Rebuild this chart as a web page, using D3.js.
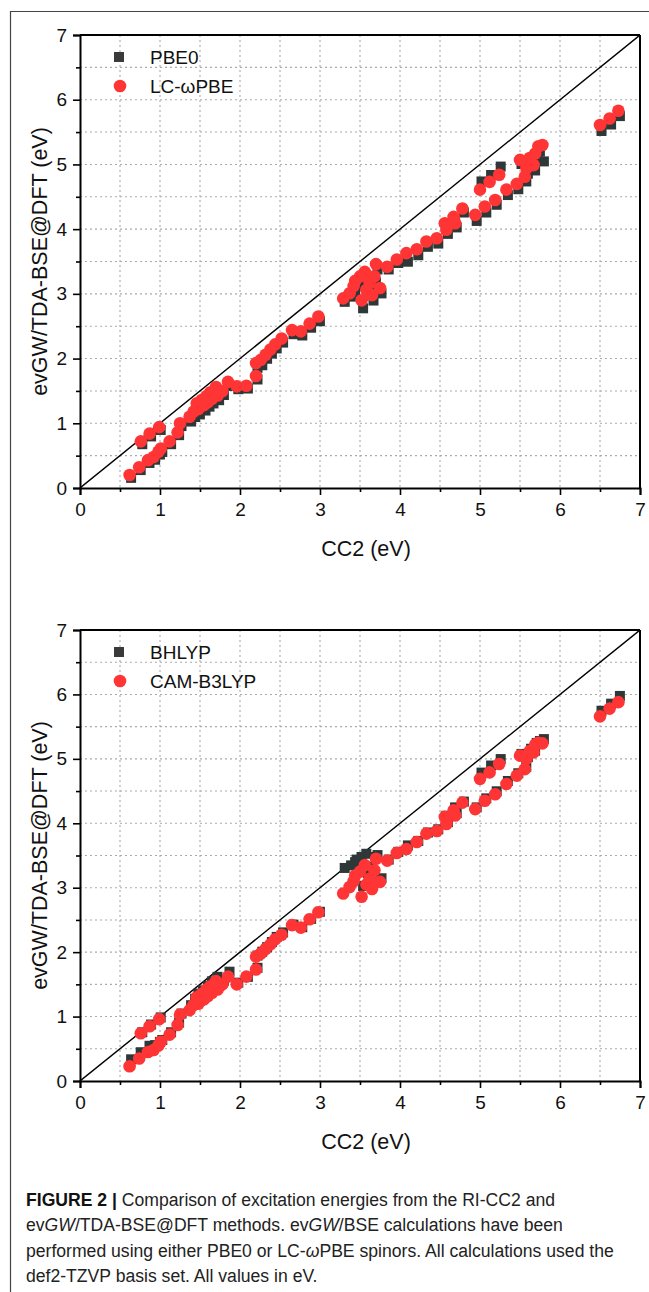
<!DOCTYPE html>
<html><head><meta charset="utf-8">
<script src="https://cdn.jsdelivr.net/npm/d3@7"></script>
<style>
body{margin:0;background:#fff;}
svg{display:block;}
</style></head><body>
<svg id="c" width="649" height="1292"></svg>
<script>
// CC2 reference energies (eV), shared by all series
const cc2 = [0.62,0.74,0.76,0.85,0.87,0.92,0.98,0.99,1.01,1.12,1.22,1.25,1.37,1.42,1.46,1.48,1.52,1.55,1.58,1.60,1.63,1.65,1.70,1.72,1.78,1.85,1.96,2.08,2.20,2.20,2.26,2.32,2.38,2.44,2.52,2.65,2.76,2.87,2.98,3.29,3.37,3.42,3.44,3.50,3.52,3.56,3.58,3.62,3.65,3.68,3.70,3.75,3.84,3.96,4.08,4.21,4.33,4.46,4.56,4.58,4.67,4.69,4.78,4.94,5.00,5.06,5.12,5.19,5.24,5.33,5.46,5.50,5.56,5.58,5.62,5.67,5.69,5.73,5.78,6.50,6.62,6.73];
const pbe0 = [0.18,0.30,0.70,0.41,0.82,0.46,0.54,0.92,0.58,0.70,0.84,0.98,1.05,1.12,1.27,1.16,1.33,1.22,1.39,1.28,1.45,1.33,1.53,1.38,1.46,1.60,1.55,1.56,1.70,1.88,1.92,2.02,2.10,2.18,2.27,2.40,2.38,2.50,2.60,2.90,2.98,3.05,3.15,3.22,2.80,3.30,3.00,3.12,2.92,3.20,3.40,3.03,3.40,3.50,3.52,3.62,3.75,3.80,4.02,3.95,4.12,4.05,4.28,4.15,4.76,4.28,4.86,4.40,4.99,4.55,4.64,5.03,4.76,4.88,5.05,4.93,5.12,5.22,5.07,5.54,5.64,5.77];
const lcwpbe = [0.20,0.32,0.72,0.43,0.84,0.48,0.56,0.94,0.61,0.72,0.86,1.00,1.10,1.18,1.31,1.22,1.36,1.28,1.42,1.33,1.48,1.38,1.56,1.43,1.50,1.64,1.57,1.58,1.73,1.93,1.98,2.06,2.14,2.22,2.31,2.44,2.42,2.54,2.65,2.93,3.01,3.12,3.20,3.27,2.90,3.34,3.06,3.17,2.98,3.27,3.46,3.09,3.42,3.53,3.63,3.69,3.81,3.86,4.09,3.99,4.19,4.09,4.32,4.22,4.61,4.35,4.73,4.45,4.84,4.61,4.70,5.07,4.81,4.94,5.10,4.99,5.17,5.28,5.30,5.61,5.71,5.83];
const bhlyp = [0.36,0.47,0.78,0.57,0.90,0.58,0.63,1.01,0.66,0.78,0.93,1.07,1.20,1.30,1.38,1.27,1.43,1.35,1.50,1.40,1.57,1.45,1.64,1.50,1.58,1.72,1.55,1.64,1.78,1.97,2.03,2.10,2.18,2.26,2.33,2.45,2.41,2.54,2.65,3.33,3.37,3.42,3.46,3.50,3.05,3.55,3.25,3.35,3.12,3.50,3.53,3.17,3.46,3.58,3.68,3.75,3.88,3.93,4.14,4.04,4.27,4.18,4.36,4.27,4.81,4.41,4.92,4.52,5.02,4.68,4.80,5.10,4.90,5.05,5.18,5.15,5.27,5.30,5.33,5.77,5.88,6.00];
const camb3lyp = [0.23,0.35,0.74,0.45,0.85,0.48,0.55,0.96,0.61,0.72,0.87,1.03,1.10,1.18,1.30,1.20,1.35,1.27,1.42,1.32,1.47,1.37,1.55,1.42,1.50,1.62,1.50,1.62,1.73,1.93,1.98,2.05,2.12,2.20,2.27,2.42,2.38,2.51,2.62,2.91,3.01,3.10,3.19,3.25,2.86,3.35,3.05,3.14,2.98,3.27,3.45,3.09,3.42,3.54,3.60,3.71,3.84,3.88,4.10,3.99,4.20,4.12,4.32,4.22,4.69,4.35,4.79,4.45,4.92,4.61,4.74,5.05,4.84,5.00,5.12,5.10,5.22,5.25,5.24,5.66,5.78,5.88];
const majorTicks = [0,1,2,3,4,5,6,7];
const minorTicks = [0.5,1.5,2.5,3.5,4.5,5.5,6.5];
const gridVals = [0.5,1,1.5,2,2.5,3,3.5,4,4.5,5,5.5,6,6.5];
const xTitle = "CC2 (eV)";
const yTitle = "evGW/TDA-BSE@DFT (eV)";

const svg = d3.select("#c");
const FONT = "'Liberation Sans', Arial, Helvetica, sans-serif";

// outer figure frame
svg.append("path").attr("d","M10.5,1292 L10.5,11.5 L649,11.5")
  .attr("fill","none").attr("stroke","#444").attr("stroke-width",1.2);

function panel(top, bottom, sqData, ciData, sqName, ciName, id){
  const L=80, R=640;
  const x = d3.scaleLinear().domain([0,7]).range([L,R]);
  const y = d3.scaleLinear().domain([0,7]).range([bottom,top]);
  const g = svg.append("g");
  // grid
  g.append("g").selectAll("line").data(gridVals).join("line")
    .attr("x1",d=>x(d)).attr("x2",d=>x(d)).attr("y1",top).attr("y2",bottom)
    .attr("stroke","#aaa").attr("stroke-width",1.1).attr("stroke-dasharray","2,3");
  g.append("g").selectAll("line").data(gridVals).join("line")
    .attr("y1",d=>y(d)).attr("y2",d=>y(d)).attr("x1",L).attr("x2",R)
    .attr("stroke","#aaa").attr("stroke-width",1.1).attr("stroke-dasharray","2,3");
  // clip
  svg.append("clipPath").attr("id",id).append("rect")
    .attr("x",L).attr("y",top).attr("width",R-L).attr("height",bottom-top);
  // diagonal
  g.append("line").attr("x1",x(0)).attr("y1",y(0)).attr("x2",x(7)).attr("y2",y(7))
    .attr("stroke","#000").attr("stroke-width",1.4).attr("clip-path",`url(#${id})`);
  // points
  const pts = cc2.map((c,i)=>({c, s:sqData[i], r:ciData[i]}));
  const S = 10;
  g.append("g").selectAll("rect").data(pts).join("rect")
    .attr("x",d=>x(d.c)-S/2+1.5).attr("y",d=>y(d.s)-S/2+1.5)
    .attr("width",S).attr("height",S).attr("fill","#2f3838");
  g.append("g").selectAll("circle").data(pts).join("circle")
    .attr("cx",d=>x(d.c)).attr("cy",d=>y(d.r)).attr("r",6.3)
    .attr("fill","#ff3535");
  // axes
  const xa = d3.axisBottom(x).tickValues(majorTicks).tickSize(7).tickPadding(8).tickFormat(d3.format("d"));
  const xg = g.append("g").attr("transform",`translate(0,${bottom})`).call(xa);
  const xm = d3.axisBottom(x).tickValues(minorTicks).tickSize(4).tickFormat("");
  g.append("g").attr("transform",`translate(0,${bottom})`).call(xm).select(".domain").remove();
  const ya = d3.axisLeft(y).tickValues(majorTicks).tickSize(7).tickPadding(6).tickFormat(d3.format("d"));
  const yg = g.append("g").attr("transform",`translate(${L},0)`).call(ya);
  const ym = d3.axisLeft(y).tickValues(minorTicks).tickSize(4).tickFormat("");
  g.append("g").attr("transform",`translate(${L},0)`).call(ym).select(".domain").remove();
  g.selectAll(".tick line").attr("stroke","#000").attr("stroke-width",1.6);
  g.selectAll(".domain").attr("stroke","#000").attr("stroke-width",2);
  [xg,yg].forEach(a=>a.selectAll("text").attr("font-family",FONT).attr("font-size",19).attr("fill","#111"));
  // top & right frame
  g.append("line").attr("x1",L).attr("x2",R).attr("y1",top).attr("y2",top).attr("stroke","#000").attr("stroke-width",2);
  g.append("line").attr("x1",R).attr("x2",R).attr("y1",top).attr("y2",bottom).attr("stroke","#000").attr("stroke-width",2);
  // titles
  g.append("text").attr("x",366).attr("y",bottom+68).attr("text-anchor","middle")
    .attr("font-family",FONT).attr("font-size",21.5).attr("fill","#111").text(xTitle);
  g.append("text").attr("transform",`translate(47,${(top+bottom)/2}) rotate(-90)`)
    .attr("text-anchor","middle").attr("font-family",FONT).attr("font-size",21.5).attr("fill","#111").text(yTitle);
  // legend
  g.append("rect").attr("x",114).attr("y",top+17).attr("width",10).attr("height",10).attr("fill","#3a3a3a");
  g.append("text").attr("x",150).attr("y",top+29).attr("font-family",FONT).attr("font-size",19).attr("fill","#111").text(sqName);
  g.append("circle").attr("cx",120).attr("cy",top+51).attr("r",6.3).attr("fill","#ff3535");
  g.append("text").attr("x",150).attr("y",top+58).attr("font-family",FONT).attr("font-size",19).attr("fill","#111").text(ciName);
}

panel(35, 488, pbe0, lcwpbe, "PBE0", "LC-\u03c9PBE", "clipA");
panel(630, 1081, bhlyp, camb3lyp, "BHLYP", "CAM-B3LYP", "clipB");

// caption
const cap = svg.append("g").attr("font-family",FONT).attr("font-size",17.6).attr("fill","#222");
const lines = [
  [["FIGURE 2 | ","b"],["Comparison of excitation energies from the RI-CC2 and",""]],
  [["ev",""],["GW","i"],["/TDA-BSE@DFT methods. ev",""],["GW","i"],["/BSE calculations have been",""]],
  [["performed using either PBE0 or LC-",""],["\u03c9","i"],["PBE spinors. All calculations used the",""]],
  [["def2-TZVP basis set. All values in eV.",""]]
];
lines.forEach((ln,i)=>{
  const t = cap.append("text").attr("x",26).attr("y",1206+i*25.3);
  ln.forEach(([s,st])=>{
    const sp = t.append("tspan").text(s);
    if(st==="b") sp.attr("font-weight","bold").attr("fill","#111");
    if(st==="i") sp.attr("font-style","italic");
  });
});
</script>
</body></html>
